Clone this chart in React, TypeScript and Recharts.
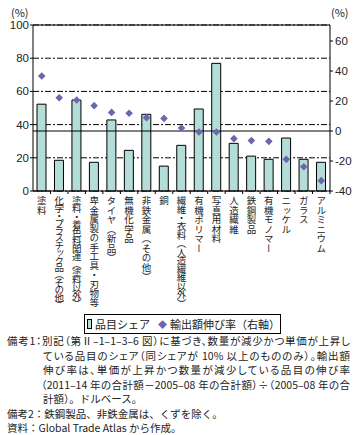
import React from 'react';
import {
  ComposedChart,
  Bar,
  Line,
  XAxis,
  YAxis,
  CartesianGrid,
  ReferenceLine
} from 'recharts';

// 品目（横軸）
const categories = [
  '塗料',
  '化学・プラスチック品（その他）',
  '塗料・着色料関連（塗料以外）',
  '卑金属製の手工具・刃物等',
  'タイヤ（新品）',
  '無機化学品',
  '非鉄金属（その他）',
  '銅',
  '繊維・衣料（人造繊維以外）',
  '有機ポリマー',
  '写真用材料',
  '人造繊維',
  '鉄鋼製品',
  '有機モノマー',
  'ニッケル',
  'ガラス',
  'アルミニウム'
];

// 品目シェア（左軸, %）
const itemShare = [52.3, 18.5, 54.8, 17.3, 42.8, 24.5, 46.2, 15.0, 27.5, 49.4, 76.9, 28.7, 21.0, 19.1, 31.9, 19.1, 17.3];

// 輸出額伸び率（右軸, %）
const exportGrowth = [36.7, 22.2, 20.7, 16.9, 12.4, 11.8, 8.9, 8.4, 2.0, -0.7, -0.7, -5.1, -6.4, -6.9, -18.9, -23.8, -33.1];

const leftTicks = [0, 20, 40, 60, 80, 100];
const rightTicks = [-40, -20, 0, 20, 40, 60];

const notes = [
  '備考1：別記（第Ⅱ–1–1–3–6 図）に基づき、数量が減少かつ単価が上昇し',
  'ている品目のシェア（同シェアが 10% 以上のもののみ）。輸出額',
  '伸び率は、単価が上昇かつ数量が減少している品目の伸び率',
  '（2011–14 年の合計額－2005–08 年の合計額）÷（2005–08 年の合',
  '計額）。ドルベース。',
  '備考2：鉄鋼製品、非鉄金属は、くずを除く。',
  '資料：Global Trade Atlas から作成。'
];

const BAR_FILL = '#b3ddd6';
const DOT_FILL = '#6c66ae';
const JP = '"Noto Sans CJK JP", "Noto Sans", sans-serif';
const NUM = '"Liberation Sans", Arial, sans-serif';

const LABEL_FS = 9.5;
const LABEL_MAX = 111;

const data = categories.map((name, i) => ({
  name,
  share: itemShare[i],
  growth: exportGrowth[i]
}));

const CategoryTick = (props: any) => {
  const { x, y, payload } = props;
  const label = String(payload.value);
  const natural = label.length * LABEL_FS;
  const spacing = natural > LABEL_MAX ? (LABEL_MAX - natural) / label.length : 0;
  const half = payload.offset ?? 297 / categories.length / 2;
  return (
    <g>
      <line x1={x + half} x2={x + half} y1={y - 5} y2={y - 2} stroke="#000" strokeWidth={1} />
      <text
        x={x}
        y={y}
        fill="#222"
        fontSize={LABEL_FS}
        fontFamily={JP}
        style={{ writingMode: 'vertical-rl', letterSpacing: spacing } as any}
      >
        {label}
      </text>
    </g>
  );
};

const Diamond = (props: any) => {
  const { cx, cy, index } = props;
  if (cx == null || cy == null) return <g key={index} />;
  const r = 3.8;
  return (
    <path
      key={index}
      d={`M${cx},${cy - r}L${cx + r},${cy}L${cx},${cy + r}L${cx - r},${cy}Z`}
      fill={DOT_FILL}
    />
  );
};

export default function App() {
  return (
    <div
      style={{
        position: 'absolute',
        left: 0,
        top: 0,
        width: 361,
        height: 435,
        background: '#fff',
        color: '#222',
        fontFamily: JP,
        overflow: 'hidden'
      }}
    >
      <div style={{ position: 'absolute', left: 11, top: 6, fontSize: 11, lineHeight: '12px' }}>(%)</div>
      <div style={{ position: 'absolute', left: 331, top: 6, fontSize: 11, lineHeight: '12px' }}>(%)</div>

      <ComposedChart
        width={361}
        height={310}
        data={data}
        margin={{ top: 25, right: 0, bottom: 0, left: 0 }}
      >
        <CartesianGrid
          yAxisId="left"
          vertical={false}
          stroke="#000"
          strokeWidth={1}
          strokeDasharray="6 2 2 2"
        />
        <ReferenceLine yAxisId="right" y={0} stroke="#000" strokeWidth={1} />
        <XAxis
          dataKey="name"
          interval={0}
          height={119}
          tickSize={3}
          tickMargin={2}
          tickLine={false}
          axisLine={{ stroke: '#000', strokeWidth: 1 }}
          tick={<CategoryTick />}
        />
        <YAxis
          yAxisId="left"
          domain={[0, 100]}
          ticks={leftTicks}
          width={33}
          tickSize={3}
          tickMargin={1}
          axisLine={{ stroke: '#000', strokeWidth: 1 }}
          tickLine={{ stroke: '#000', strokeWidth: 1 }}
          tick={{ fill: '#222', fontSize: 11.5, fontFamily: NUM }}
        />
        <YAxis
          yAxisId="right"
          orientation="right"
          domain={[-40, 70.67]}
          ticks={rightTicks}
          allowDataOverflow
          width={31}
          tickSize={3}
          tickMargin={2}
          axisLine={{ stroke: '#000', strokeWidth: 1 }}
          tickLine={{ stroke: '#000', strokeWidth: 1 }}
          tick={{ fill: '#222', fontSize: 11.5, fontFamily: NUM, textAnchor: 'start' }}
        />
        <Bar
          yAxisId="left"
          dataKey="share"
          fill={BAR_FILL}
          stroke="#000"
          strokeWidth={1}
          barSize={9}
          isAnimationActive={false}
        />
        <Line
          yAxisId="right"
          dataKey="growth"
          stroke="none"
          dot={Diamond}
          activeDot={false}
          isAnimationActive={false}
        />
        <ReferenceLine yAxisId="left" y={100} stroke="#000" strokeWidth={1} />
      </ComposedChart>

      <div
        style={{
          position: 'absolute',
          left: 84,
          top: 314,
          width: 195,
          height: 18,
          border: '1px solid #000',
          display: 'flex',
          alignItems: 'center',
          fontSize: 11,
          whiteSpace: 'nowrap'
        }}
      >
        <span
          style={{
            display: 'inline-block',
            width: 8,
            height: 8,
            background: BAR_FILL,
            border: '1px solid #000',
            marginLeft: 2,
            marginRight: 3
          }}
        />
        <span>品目シェア</span>
        <span style={{ color: DOT_FILL, fontSize: 9, marginLeft: 8, marginRight: 3 }}>◆</span>
        <span>輸出額伸び率（右軸）</span>
      </div>

      {notes.map((t, i) => {
        const lefts = [7, 43, 43, 41, 43, 7, 7];
        const centers = [341, 355.5, 370, 384.5, 399, 413.5, 428];
        const justify = i < 4;
        return (
          <div
            key={i}
            style={{
              position: 'absolute',
              left: lefts[i],
              top: centers[i] - 6,
              width: justify ? 350 - lefts[i] : undefined,
              height: 12,
              lineHeight: '12px',
              fontSize: 10.5,
              whiteSpace: 'nowrap',
              textAlign: justify ? 'justify' : 'left',
              textAlignLast: justify ? 'justify' : 'auto',
              fontFeatureSettings: justify ? '"palt"' : 'normal'
            } as any}
          >
            {t}
          </div>
        );
      })}
    </div>
  );
}
